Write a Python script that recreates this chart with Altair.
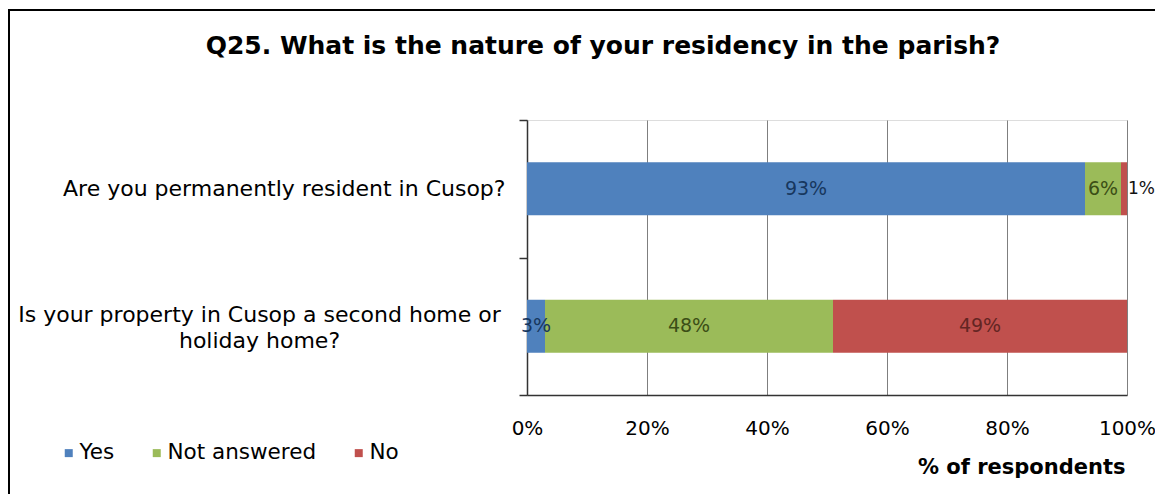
import altair as alt
import pandas as pd

questions = [
    "Are you permanently resident in Cusop?",
    "Is your property in Cusop a second home or holiday home?",
]
series = ["Yes", "Not answered", "No"]
yes_vals = [93, 3]
na_vals = [6, 48]
no_vals = [1, 49]
bar_colors = ["#4F81BD", "#9BBB59", "#C0504D"]
text_colors = ["#17375E", "#3B4E16", "#632523"]

rows = []
for qi, q in enumerate(questions):
    start = 0
    for si, (s, vals) in enumerate(zip(series, [yes_vals, na_vals, no_vals])):
        v = vals[qi]
        rows.append({"question": q, "series": s, "order": si, "value": v,
                     "start": start, "end": start + v, "label": f"{v}%"})
        start += v
df = pd.DataFrame(rows)

FONT = "DejaVu Sans"
q2 = questions[1]
is_q2 = "datum.value == '" + q2 + "'"

y_enc = alt.Y(
    "question:N", sort=questions, title=None,
    scale=alt.Scale(paddingInner=0, paddingOuter=0),
    axis=alt.Axis(
        labelExpr=is_q2 + " ? ['Is your property in Cusop a second home or', 'holiday home?'] : datum.value",
        labelFont=FONT, labelFontSize=22, labelColor="#000000",
        labelAlign={"condition": {"test": is_q2, "value": "center"}, "value": "right"},
        labelPadding={"condition": {"test": is_q2, "value": 260}, "value": 14},
        labelOffset={"condition": {"test": is_q2, "value": -12}, "value": 0},
        labelLineHeight=26, labelLimit=700,
        tickBand="extent", tickSize=8, tickColor="#333333", tickWidth=1.5,
        domainColor="#333333", domainWidth=1.5, grid=False,
    ),
)

x_scale = alt.Scale(domain=[0, 100])
x_axis = alt.Axis(
    values=[0, 20, 40, 60, 80, 100], format=".0f", labelExpr="datum.value + '%'",
    labelFont=FONT, labelFontSize=20, labelColor="#000000", labelPadding=23,
    ticks=False, domainColor="#333333", domainWidth=1.5,
    grid=True, gridColor="#7f7f7f", gridWidth=1,
    title="% of respondents", titleFont=FONT, titleFontSize=21, titleFontWeight="bold",
    titleAnchor="end", titleAlign="right", titleX=598, titleY=72, titleBaseline="middle",
    labelFlush=False,
)

bars = alt.Chart(df).mark_bar(opacity=1, size=53).encode(
    x=alt.X("start:Q", scale=x_scale, axis=x_axis),
    x2="end:Q",
    y=y_enc,
    color=alt.Color(
        "series:N", sort=series,
        scale=alt.Scale(domain=series, range=bar_colors),
        legend=alt.Legend(
            title=None, orient="none", direction="horizontal", legendX=-469, legendY=322,
            symbolType="square", symbolSize=64, symbolStrokeWidth=0,
            labelFont=FONT, labelFontSize=21.5, labelColor="#000000",
            columnPadding=31, symbolOffset=0, labelOffset=0,
        ),
    ),
    order=alt.Order("order:Q"),
)

big = alt.Chart(df).transform_filter("datum.value >= 2").transform_calculate(
    mid="(datum.start + datum.end) / 2"
).mark_text(font=FONT, fontSize=19, baseline="middle", align="center").encode(
    x=alt.X("mid:Q", scale=x_scale),
    y=alt.Y("question:N", sort=questions),
    text="label:N",
    color=alt.Color("series:N", scale=alt.Scale(domain=series, range=text_colors), legend=None),
)

small = alt.Chart(df).transform_filter("datum.value < 2").mark_text(
    font=FONT, fontSize=17, baseline="middle", align="left", dx=1, color="#111111"
).encode(
    x=alt.X("end:Q", scale=x_scale),
    y=alt.Y("question:N", sort=questions),
    text="label:N",
)

frame = alt.Chart(df).mark_rect(fill=None, stroke="#000000", strokeWidth=2).encode(
    x=alt.value(-518), x2=alt.value(660), y=alt.value(-110), y2=alt.value(420)
)

chart = alt.layer(bars, big, small, frame).resolve_scale(color="independent").properties(
    width=600, height=275,
    padding={"left": 519, "top": 112, "right": 28, "bottom": 99},
    autosize=alt.AutoSizeParams(type="none"),
    title=alt.TitleParams(
        "Q25. What is the nature of your residency in the parish?",
        font=FONT, fontSize=25, fontWeight="bold", color="#000000",
        anchor="middle", frame="group", dx=-224, offset=-50,
    ),
).configure_view(fill="#f4f4f4", stroke=None).configure(background="#ffffff")

chart.save("out.html", embed_options={"renderer": "svg", "actions": False})
